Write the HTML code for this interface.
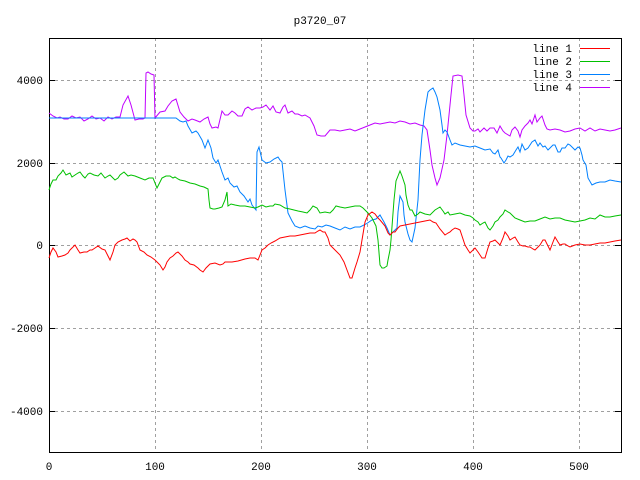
<!DOCTYPE html><html><head><style>body{margin:0;background:#fff}svg{display:block}text{font-family:"Liberation Mono",monospace;font-size:11px;fill:#000}</style></head><body>
<svg width="640" height="480" xmlns="http://www.w3.org/2000/svg">
<rect width="640" height="480" fill="#fff"/>
<g stroke="#a0a0a0" stroke-dasharray="3,3" stroke-width="1">
<line x1="49" y1="80.5" x2="621" y2="80.5"/><line x1="49" y1="163.5" x2="621" y2="163.5"/><line x1="49" y1="245.5" x2="621" y2="245.5"/><line x1="49" y1="328.5" x2="621" y2="328.5"/><line x1="49" y1="411.5" x2="621" y2="411.5"/>
<line x1="155.5" y1="38" x2="155.5" y2="452"/><line x1="261.5" y1="38" x2="261.5" y2="452"/><line x1="367.5" y1="38" x2="367.5" y2="452"/><line x1="473.5" y1="38" x2="473.5" y2="452"/><line x1="579.5" y1="38" x2="579.5" y2="452"/>
</g>
<rect x="49.5" y="38.5" width="572" height="414" fill="none" stroke="#000"/>
<g stroke="#000"><line x1="49" y1="80.5" x2="55" y2="80.5"/><line x1="49" y1="163.5" x2="55" y2="163.5"/><line x1="49" y1="245.5" x2="55" y2="245.5"/><line x1="49" y1="328.5" x2="55" y2="328.5"/><line x1="49" y1="411.5" x2="55" y2="411.5"/>
<line x1="615" y1="80.5" x2="621" y2="80.5"/><line x1="615" y1="163.5" x2="621" y2="163.5"/><line x1="615" y1="245.5" x2="621" y2="245.5"/><line x1="615" y1="328.5" x2="621" y2="328.5"/><line x1="615" y1="411.5" x2="621" y2="411.5"/></g>
<g text-anchor="end"><text x="43" y="46">4000</text><text x="43" y="84">4000</text><text x="43" y="167">2000</text><text x="43" y="249">0</text><text x="43" y="332">-2000</text><text x="43" y="415">-4000</text></g>
<g text-anchor="middle"><text x="49" y="470">0</text><text x="155" y="470">100</text><text x="261" y="470">200</text><text x="367" y="470">300</text><text x="473" y="470">400</text><text x="579" y="470">500</text><text x="320" y="24">p3720_07</text></g>
<rect x="0" y="38" width="44" height="14" fill="#fff"/>
<g text-anchor="end"><text x="572" y="52">line 1</text><text x="572" y="65">line 2</text><text x="572" y="78">line 3</text><text x="572" y="91">line 4</text></g>
<line x1="580" y1="48.5" x2="610" y2="48.5" stroke="#ff0000"/><line x1="580" y1="61.5" x2="610" y2="61.5" stroke="#00c000"/><line x1="580" y1="74.5" x2="610" y2="74.5" stroke="#0080ff"/><line x1="580" y1="87.5" x2="610" y2="87.5" stroke="#c000ff"/>
<g fill="none" stroke-width="1">
<polyline stroke="#c000ff" points="49,113 53,116 57,118 60,117 64,119 68,119 72,116 76,118 80,117 84,121 88,119 92,116 96,119 100,118 104,121 108,117 112,119 116,117 120,117 123,105 128,96 131,105 135,120 139,119 143,119 145,118 146,73 148,72 151,74 154,75 155,118 160,112 165,111 168,106 172,101 176,99 180,112 184,117 188,121 192,119 195,120 200,122 204,119 208,117 210,124 212,128 216,127 218,128 222,111 225,115 228,115 232,111 235,113 238,116 242,116 245,109 248,107 252,110 256,108 260,108 263,107 266,105 270,110 273,106 276,112 280,113 283,107 285,105 288,113 292,111 295,114 298,114 302,116 305,115 310,118 314,126 317,135 321,136 325,136 330,130 335,130 340,131 345,130 350,129 355,131 360,129 365,127 370,125 375,123 380,124 385,123 390,122 395,123 400,121 405,122 410,124 415,123 420,125 424,126 427,130 430,150 432,165 435,178 437,185 440,178 444,160 447,135 449,115 451,95 453,76 458,75 462,76 464,95 466,115 470,128 473,131 475,131 478,129 480,132 484,128 487,131 490,128 494,128 497,133 500,126 503,131 505,133 510,136 512,130 515,127 518,131 520,137 522,130 525,126 528,123 530,120 532,124 535,115 537,122 540,118 542,116 545,125 547,129 550,130 555,129 560,130 565,132 570,131 575,129 580,128 585,131 590,128 595,131 600,129 605,130 610,131 615,130 621,128"/>
<polyline stroke="#0080ff" points="49,118 176,118 180,121 183,122 186,121 188,126 192,133 196,131 198,133 202,140 205,148 208,140 211,148 213,158 216,163 218,160 220,166 222,172 225,180 228,178 230,183 234,187 237,186 240,192 244,196 248,202 250,199 252,205 256,210 257,152 259,147 262,160 266,163 270,162 274,159 278,157 280,160 282,162 285,190 288,213 292,221 295,226 300,228 305,226 310,228 315,229 318,226 322,227 326,225 330,226 335,228 340,230 345,227 350,229 355,227 360,227 366,224 372,220 376,219 380,215 384,222 387,228 390,235 393,232 397,228 398,212 400,196 402,200 403,202 404,215 405,222 408,234 410,240 412,242 415,228 418,200 420,160 422,135 425,110 428,92 430,90 433,88 435,92 437,97 440,110 442,125 443,133 445,130 447,132 450,140 452,145 455,143 460,145 465,146 470,147 475,146 480,148 485,150 490,149 493,153 495,154 498,150 500,157 501,158 504,163 506,160 508,156 510,157 513,155 516,150 518,147 520,152 522,144 525,150 528,148 532,142 535,140 538,146 540,143 543,147 545,146 548,150 550,148 553,145 555,145 558,152 560,152 562,148 565,148 568,144 570,145 573,148 575,150 578,147 580,148 582,155 583,160 586,165 588,178 592,185 596,183 600,182 605,182 610,180 615,181 621,182"/>
<polyline stroke="#00c000" points="49,190 51,184 53,180 56,180 58,176 61,173 63,170 66,175 70,173 72,177 75,175 78,173 80,172 83,176 85,178 88,174 90,173 94,175 98,176 101,173 105,178 108,176 110,175 113,178 115,180 118,178 120,175 124,172 128,176 131,175 135,176 140,178 145,180 149,178 153,178 155,183 157,188 160,182 162,178 166,176 170,176 173,178 175,177 178,179 180,180 185,181 190,183 195,184 200,186 204,187 208,189 209,200 210,208 213,209 215,209 219,208 222,207 225,200 227,192 228,206 231,204 235,205 240,206 245,206 250,207 255,208 258,207 262,205 266,207 270,206 273,206 275,204 280,205 285,208 290,209 294,210 298,211 303,212 307,213 310,210 313,206 317,208 320,213 325,212 330,213 333,210 336,206 340,207 345,208 350,207 355,206 360,206 363,208 365,210 368,213 372,218 374,222 376,226 378,240 380,265 382,268 384,268 387,266 388,260 390,250 391,240 394,200 396,181 398,176 400,171 402,176 405,185 406,195 408,205 410,210 412,210 415,216 418,214 420,212 425,214 430,215 435,210 440,207 443,211 445,214 448,212 450,215 455,214 460,213 465,215 470,216 473,218 475,220 478,222 480,225 483,223 485,222 488,228 490,230 493,226 495,222 498,220 500,217 503,214 505,210 508,212 510,213 513,216 515,218 520,220 525,222 530,221 535,221 540,219 545,217 550,219 555,218 560,218 565,220 570,221 575,222 580,221 585,220 590,218 595,219 600,215 605,217 610,217 615,216 621,215"/>
<polyline stroke="#ff0000" points="49,258 51,252 53,248 56,252 58,257 62,256 65,255 68,253 70,250 72,248 75,245 78,250 80,253 84,252 87,252 90,250 92,250 95,248 98,246 102,249 105,250 108,256 110,260 113,252 115,245 118,242 122,240 125,239 127,238 130,241 133,239 135,240 137,242 140,250 144,252 147,255 151,257 155,260 158,263 160,265 163,270 165,267 167,262 170,258 173,256 176,253 178,252 182,256 185,260 188,262 190,264 194,265 198,268 200,270 203,272 206,268 210,264 215,263 220,265 223,264 225,262 228,262 232,262 238,261 245,259 250,258 255,258 258,260 260,255 262,250 265,248 268,245 271,243 275,241 280,238 285,237 290,236 295,236 300,235 305,234 310,233 315,233 318,231 320,230 323,232 325,232 328,238 330,245 335,250 340,255 344,262 347,270 350,278 352,278 355,268 357,262 360,252 362,240 365,222 368,215 372,212 375,214 378,218 380,220 385,226 388,233 390,235 393,232 395,232 398,228 400,226 405,225 410,224 415,223 420,222 425,221 430,220 433,222 436,223 440,229 445,235 448,233 450,232 452,230 455,228 458,229 460,230 462,236 465,245 468,250 470,253 473,250 475,248 478,252 480,255 482,258 485,258 488,248 490,242 493,241 495,240 498,243 500,245 503,238 505,232 508,236 510,240 513,238 515,237 518,242 520,245 523,246 525,246 528,247 530,247 533,249 535,250 538,247 540,245 543,240 545,240 548,246 550,250 553,242 555,237 558,242 560,245 563,244 565,244 568,246 570,247 575,245 580,244 585,245 590,245 595,244 600,243 605,243 610,242 615,241 621,240"/>
</g>
</svg></body></html>
